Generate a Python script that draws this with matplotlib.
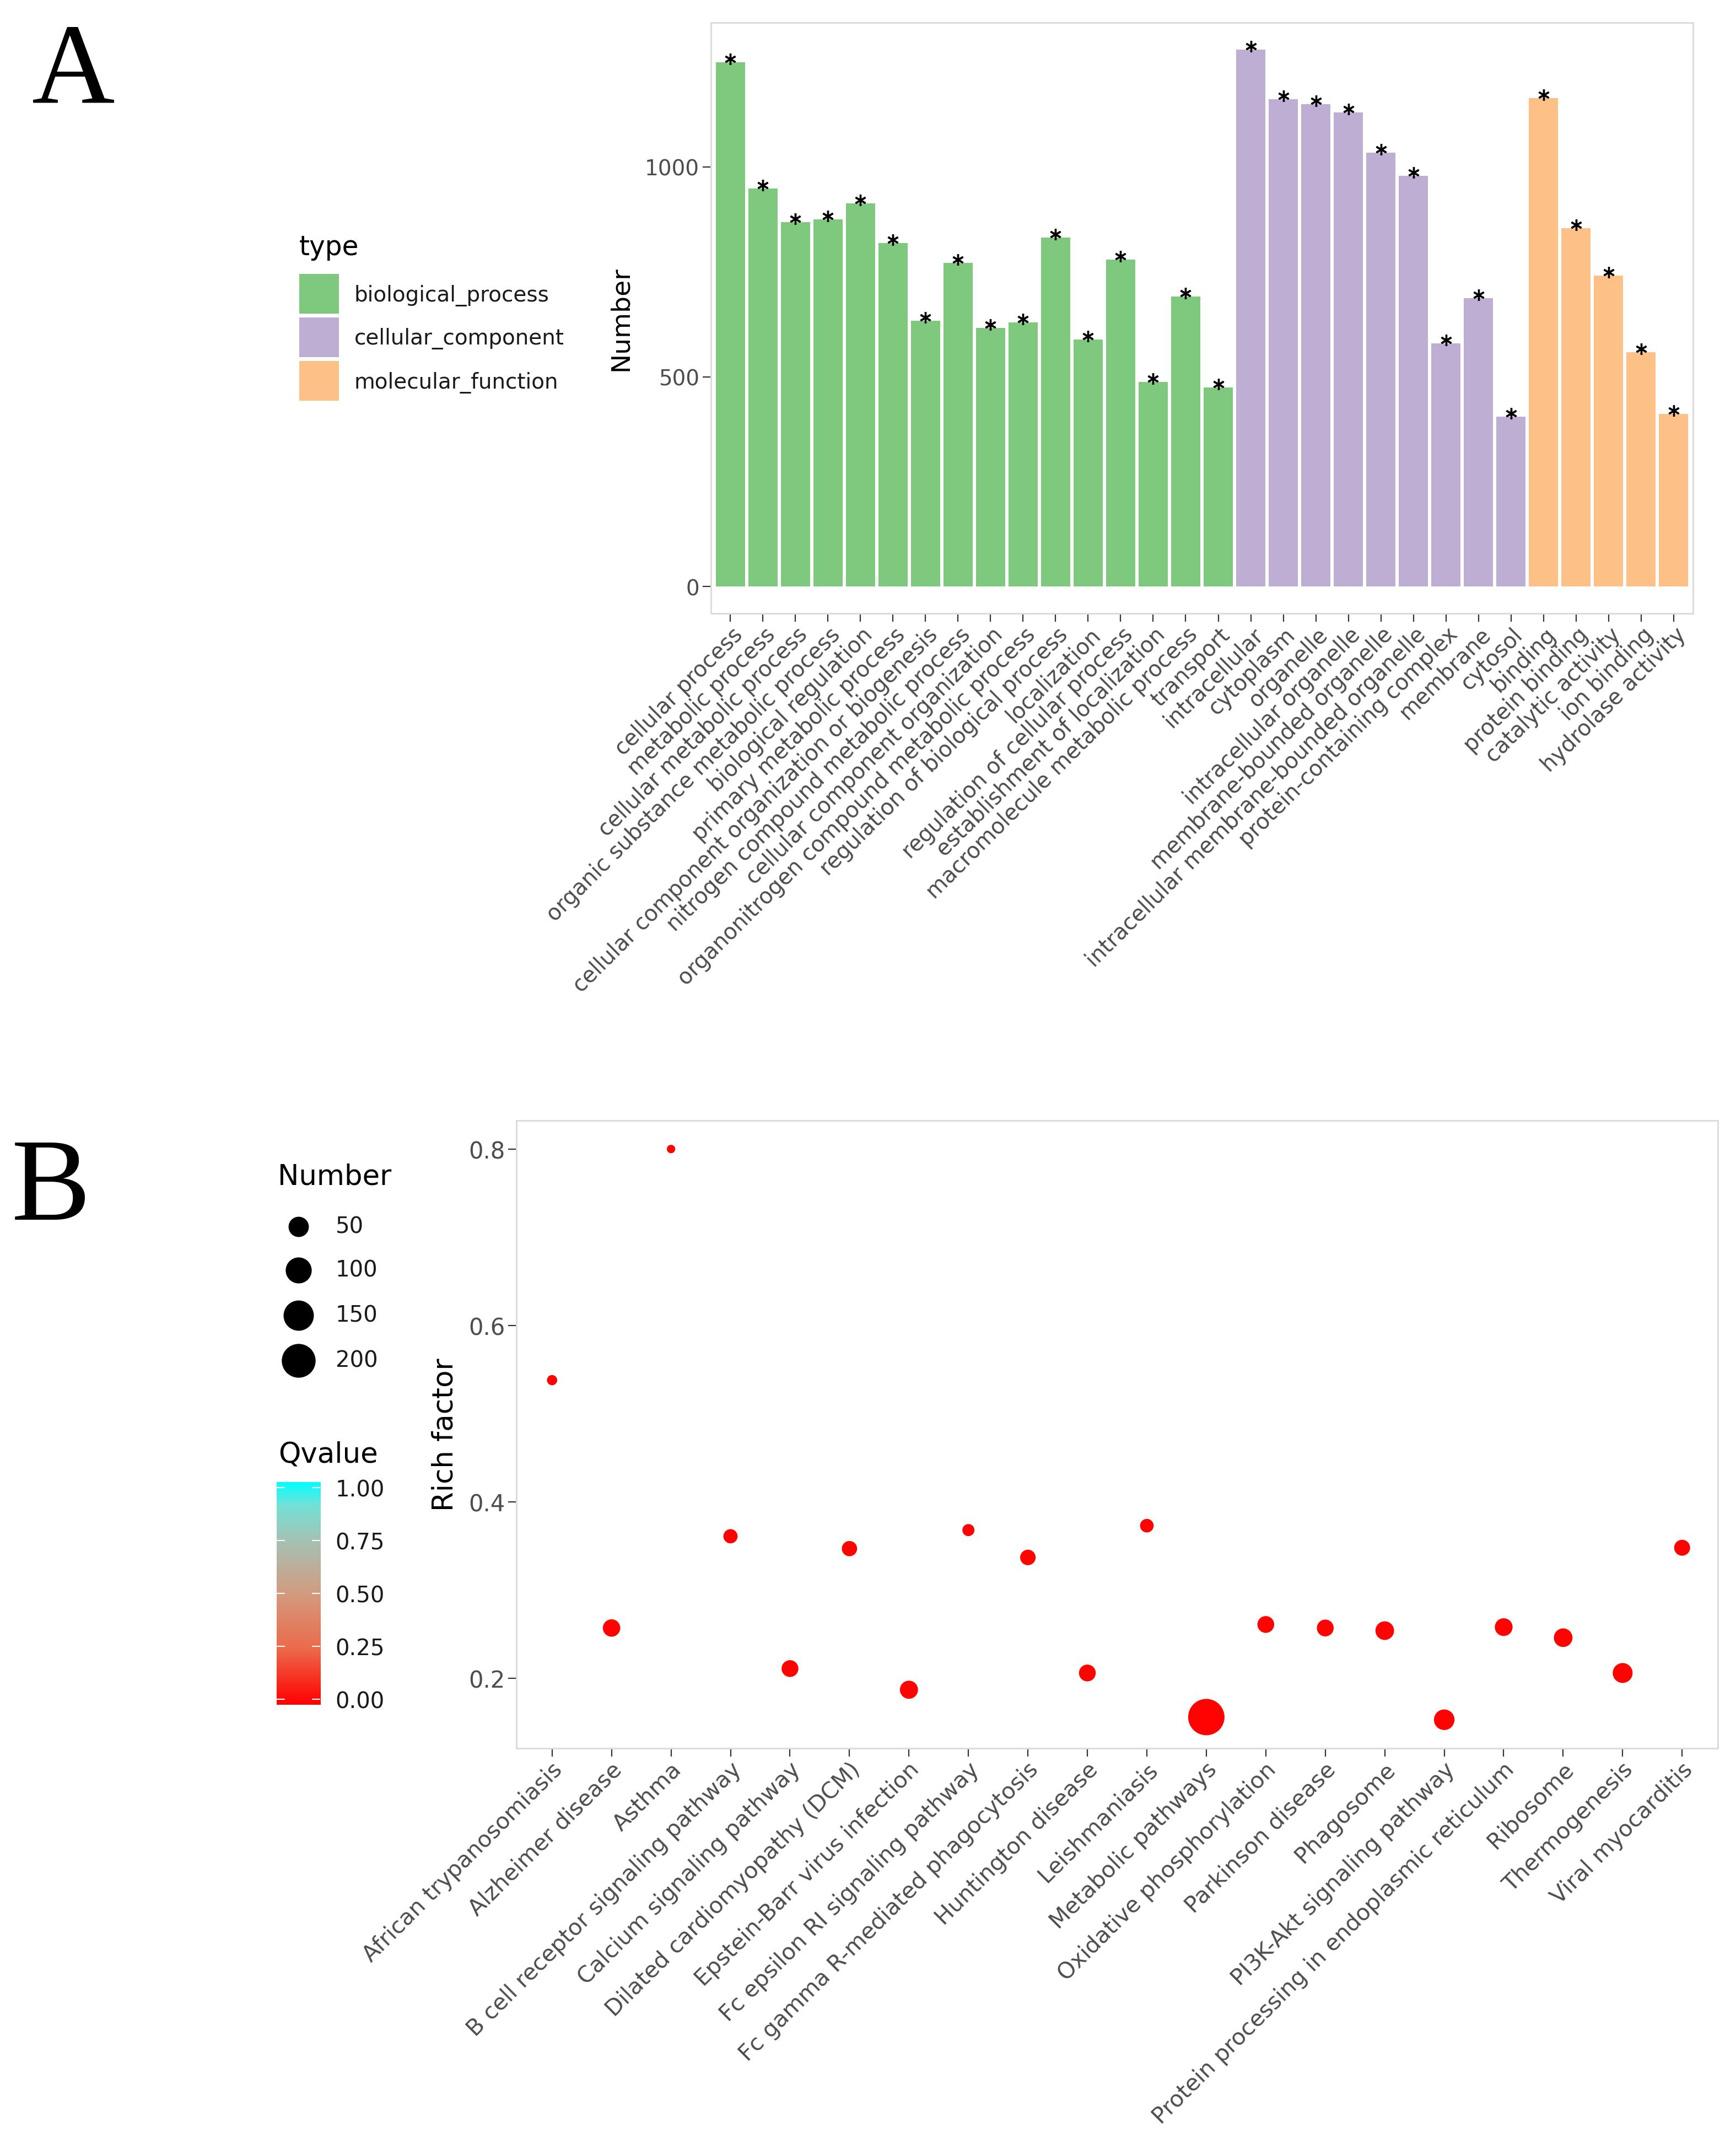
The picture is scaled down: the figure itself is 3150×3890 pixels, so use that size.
import numpy as np
import matplotlib
matplotlib.use('Agg')
import matplotlib.pyplot as plt
from matplotlib.colors import LinearSegmentedColormap, Normalize
from matplotlib.patches import Rectangle
from matplotlib.transforms import offset_copy, ScaledTranslation

# ---- panel A data: GO terms ----
go_terms = ['cellular process', 'metabolic process', 'cellular metabolic process',
            'organic substance metabolic process', 'biological regulation',
            'primary metabolic process', 'cellular component organization or biogenesis',
            'nitrogen compound metabolic process', 'cellular component organization',
            'organonitrogen compound metabolic process', 'regulation of biological process',
            'localization', 'regulation of cellular process', 'establishment of localization',
            'macromolecule metabolic process', 'transport',
            'intracellular', 'cytoplasm', 'organelle', 'intracellular organelle',
            'membrane-bounded organelle', 'intracellular membrane-bounded organelle',
            'protein-containing complex', 'membrane', 'cytosol',
            'binding', 'protein binding', 'catalytic activity', 'ion binding',
            'hydrolase activity']
go_types = ['biological_process'] * 16 + ['cellular_component'] * 9 + ['molecular_function'] * 5
go_counts = [1250, 949, 868, 875, 913, 819, 634, 772, 616, 629, 832, 589, 779, 488, 691, 474,
             1280, 1162, 1150, 1130, 1034, 979, 580, 687, 405,
             1164, 854, 741, 559, 411]
type_names = ['biological_process', 'cellular_component', 'molecular_function']
type_colors = {'biological_process': '#7FC97F',
               'cellular_component': '#BEAED4',
               'molecular_function': '#FDC086'}

# ---- panel B data: KEGG pathways ----
pathways = ['African trypanosomiasis', 'Alzheimer disease', 'Asthma',
            'B cell receptor signaling pathway', 'Calcium signaling pathway',
            'Dilated cardiomyopathy (DCM)', 'Epstein-Barr virus infection',
            'Fc epsilon RI signaling pathway', 'Fc gamma R-mediated phagocytosis',
            'Huntington disease', 'Leishmaniasis', 'Metabolic pathways',
            'Oxidative phosphorylation', 'Parkinson disease', 'Phagosome',
            'PI3K-Akt signaling pathway', 'Protein processing in endoplasmic reticulum',
            'Ribosome', 'Thermogenesis', 'Viral myocarditis']
rich_factor = [0.538, 0.257, 0.800, 0.361, 0.211, 0.347, 0.187, 0.368, 0.337, 0.206,
               0.373, 0.156, 0.261, 0.257, 0.254, 0.153, 0.258, 0.246, 0.206, 0.348]
gene_number = [9, 32, 8, 18, 29, 22, 36, 12, 23, 29, 16, 240, 29, 29, 39, 52, 34, 39, 47, 25]
qvalue = [0.01] * 20
size_breaks = [50, 100, 150, 200]
q_ticks = [0, 0.25, 0.5, 0.75, 1.0]

W, H, DPI = 3150, 3891, 100
plt.rcParams['font.family'] = ['DejaVu Sans']

fig = plt.figure(figsize=(W / DPI, H / DPI), dpi=DPI)


def rect(l, t, r, b):
    return [l / W, 1 - b / H, (r - l) / W, (b - t) / H]


def dot_area(n):
    # ggplot-like area scale, diameter in pixels -> points^2
    n = np.asarray(n, dtype=float)
    lo, hi = min(gene_number), max(gene_number)
    d = 10.15 * (1.5 + 5 * np.sqrt(np.clip((n - lo) / (hi - lo), 0, 1)))
    return (d * 72 / DPI) ** 2


def style_axes(ax, fs):
    for sp in ax.spines.values():
        sp.set_color('#DCDCDC')
        sp.set_linewidth(2.2)
    ax.tick_params(axis='both', length=11, width=1.6, color='#333333',
                   labelsize=fs, labelcolor='#4D4D4D', pad=4)
    ax.tick_params(axis='x', pad=12)


def nudge_xlabels(ax, dx_px):
    shift = ScaledTranslation(dx_px / DPI, 0, fig.dpi_scale_trans)
    for lab in ax.get_xticklabels():
        lab.set_transform(lab.get_transform() + shift)


# overlay in pixel coordinates for legends and titles
ov = fig.add_axes([0, 0, 1, 1], zorder=0)
ov.set_xlim(0, W)
ov.set_ylim(H, 0)
ov.axis('off')

# ================= panel A =================
axA = fig.add_axes(rect(1290, 42, 3072, 1114), zorder=1)
x = np.arange(len(go_terms))
axA.bar(x, go_counts, width=0.9, color=[type_colors[t] for t in go_types], edgecolor='none')
star_tr = offset_copy(axA.transData, fig=fig, y=6, units='dots')
axA.plot(x, go_counts, linestyle='none', marker=(6, 2, 0), ms=15, mew=2.4,
         color='black', transform=star_tr, clip_on=False)
ymax = max(go_counts)
axA.set_ylim(-0.05 * ymax, 1.05 * ymax)
axA.set_xlim(-0.6, len(go_terms) - 0.4)
axA.set_yticks([0, 500, 1000])
axA.set_xticks(x)
axA.set_xticklabels(go_terms, rotation=45, ha='right', va='center', rotation_mode='anchor')
style_axes(axA, 28)
axA.tick_params(axis='x', labelsize=28.5)
nudge_xlabels(axA, 16)

ov.text(1126, 578, 'Number', fontsize=34, rotation=90, ha='center', va='center', color='black')
ov.text(543, 449, 'type', fontsize=35, ha='left', va='center', color='black')
for i, name in enumerate(type_names):
    top = 498 + i * 79
    ov.add_patch(Rectangle((543, top), 72, 72, facecolor=type_colors[name], edgecolor='none'))
    ov.text(643, top + 38, name, fontsize=28, ha='left', va='center', color='#1A1A1A')
ov.text(58, 186, 'A', fontsize=150, family='Liberation Serif', ha='left', va='baseline')

# ================= panel B =================
q_cmap = LinearSegmentedColormap.from_list(
    'qv', [(0, '#FF0000'), (0.25, '#EC6A4A'), (0.5, '#D39B80'),
           (0.75, '#A2C4B7'), (0.9, '#72E1D7'), (1, '#00FFFF')])
q_norm = Normalize(0, 1)

axB = fig.add_axes(rect(937, 2034, 3117, 3173), zorder=1)
xb = np.arange(len(pathways))
axB.scatter(xb, rich_factor, s=dot_area(gene_number), c=qvalue, cmap=q_cmap, norm=q_norm,
            edgecolors='none', zorder=3)
lo, hi = min(rich_factor), max(rich_factor)
pad = 0.05 * (hi - lo)
axB.set_ylim(lo - pad, hi + pad)
axB.set_xlim(-0.6, len(pathways) - 0.4)
axB.set_yticks([0.2, 0.4, 0.6, 0.8])
axB.set_yticklabels(['0.2', '0.4', '0.6', '0.8'])
axB.set_xticks(xb)
axB.set_xticklabels(pathways, rotation=45, ha='right', va='center', rotation_mode='anchor')
style_axes(axB, 30)
axB.tick_params(axis='x', labelsize=29.5)
nudge_xlabels(axB, 13)

ov.text(807, 2603, 'Rich factor', fontsize=37, rotation=90, ha='center', va='center', color='black')
ov.text(504, 2136, 'Number', fontsize=37, ha='left', va='center', color='black')
leg_y = [2227, 2306, 2388, 2470]
ov.scatter([542] * len(size_breaks), leg_y, s=dot_area(size_breaks), color='black',
           edgecolors='none')
for yy, b in zip(leg_y, size_breaks):
    ov.text(609, yy, str(b), fontsize=29, ha='left', va='center', color='#1A1A1A')

ov.text(505, 2640, 'Qvalue', fontsize=37, ha='left', va='center', color='black')
cax = fig.add_axes(rect(502, 2690, 581, 3094), zorder=1)
grad = np.linspace(0, 1, 256).reshape(-1, 1)
cax.imshow(grad, extent=(0, 1, -0.025, 1.025), origin='lower', aspect='auto',
           cmap=q_cmap, norm=q_norm)
cax.set_xlim(0, 1)
cax.set_ylim(-0.025, 1.025)
cax.set_xticks([])
cax.set_yticks(q_ticks)
cax.set_yticklabels(['%.2f' % t for t in q_ticks])
cax.yaxis.set_ticks_position('both')
cax.tick_params(axis='y', direction='in', length=11, width=1.5, color='white',
                labelleft=False, labelright=True, labelsize=29, labelcolor='#1A1A1A', pad=20)
for sp in cax.spines.values():
    sp.set_visible(False)
ov.text(21, 2213, 'B', fontsize=155, family='Liberation Serif', ha='left', va='baseline')

fig.savefig('out.png', dpi=DPI, facecolor='white')
